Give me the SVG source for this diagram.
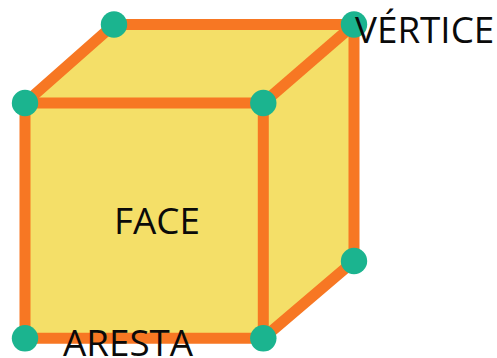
<svg xmlns="http://www.w3.org/2000/svg" width="497" height="358" viewBox="0 0 497 358">
<style>
.face{fill:#f4df68;stroke:none}
.edge{fill:none;stroke:#f77723;stroke-width:11;stroke-linecap:butt;stroke-linejoin:miter}
.v{fill:#1bb48f}
text{font-family:"Open Sans",sans-serif;font-size:36.8px;fill:#0a0a0a}
</style>
<g id="faces"><polygon class="face" points="25,103 114,24.5 354,24.5 354,261 263.3,338.3 25,338.3"/></g>
<g id="connectors">
<path class="edge" d="M25,338.3V103H263.3V338.3Z"/>
<path class="edge" d="M25,103L114,24.5H354V261L263.3,338.3"/>
<path class="edge" d="M263.3,103L354,24.5"/>
</g>
<g id="v1"><circle class="v" cx="114" cy="24.5" r="13.2"/></g>
<g id="v2"><circle class="v" cx="354" cy="24.5" r="13.2"/></g>
<g id="v3"><circle class="v" cx="25" cy="103" r="13.2"/></g>
<g id="v4"><circle class="v" cx="263.3" cy="103" r="13.2"/></g>
<g id="v5"><circle class="v" cx="354" cy="261" r="13.2"/></g>
<g id="v6"><circle class="v" cx="25" cy="338.3" r="13.2"/></g>
<g id="v7"><circle class="v" cx="263.3" cy="338.3" r="13.2"/></g>
<text id="l1" x="355" y="42.5">VÉRTICE</text>
<text id="l2" x="114" y="234">FACE</text>
<text id="l3" x="63" y="356">ARESTA</text>
</svg>
